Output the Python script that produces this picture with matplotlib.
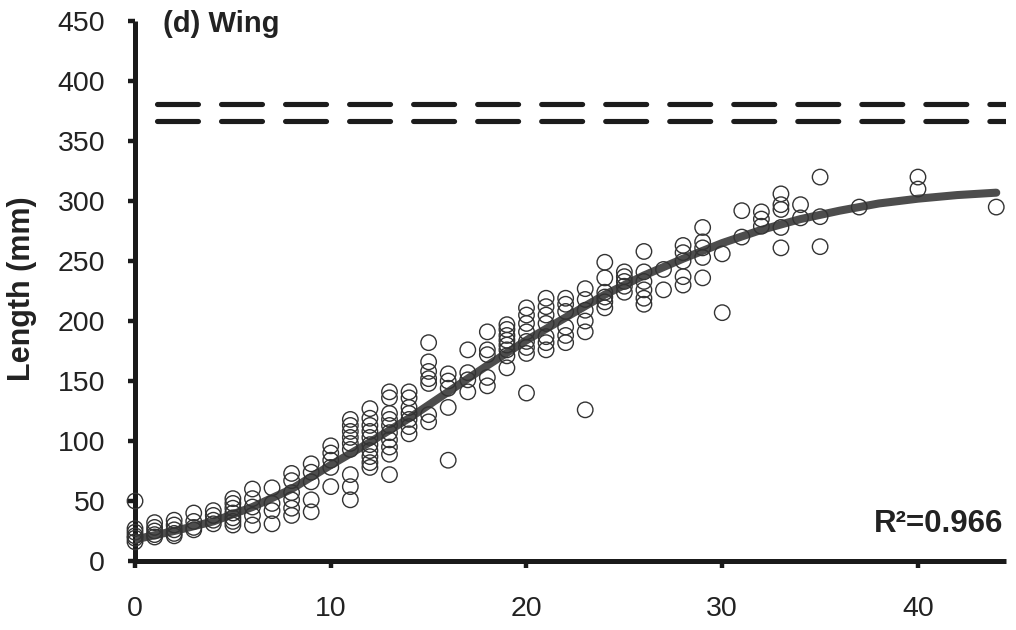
import matplotlib
matplotlib.use("Agg")
import matplotlib.pyplot as plt
import numpy as np

plt.rcParams['font.family'] = ['Liberation Sans', 'DejaVu Sans']
plt.rcParams['lines.scale_dashes'] = False

# Wing length (mm) of individual birds, grouped by age (days)
ages = [0, 1, 2, 3, 4, 5, 6, 7, 8, 9, 10, 11, 12, 13, 14, 15, 16, 17, 18, 19,
        20, 21, 22, 23, 24, 25, 26, 27, 28, 29, 30, 31, 32, 33, 34, 35, 37, 40, 44]
lengths = [
    [50, 27, 24, 21, 19, 16],
    [32, 28, 25, 22, 20],
    [34, 30, 26, 23, 21],
    [40, 33, 28, 26],
    [42, 38, 34, 31],
    [52, 48, 44, 40, 36, 33, 30],
    [60, 52, 45, 38, 30],
    [61, 48, 42, 31],
    [73, 67, 57, 51, 44, 38],
    [81, 74, 66, 51, 41],
    [96, 90, 84, 78, 62],
    [118, 113, 108, 103, 98, 93, 72, 62, 51],
    [127, 119, 113, 108, 103, 97, 92, 87, 82, 78],
    [141, 136, 123, 118, 113, 107, 101, 95, 89, 72],
    [141, 136, 128, 123, 118, 112, 106],
    [182, 166, 158, 152, 148, 122, 116],
    [156, 150, 144, 128, 84],
    [176, 157, 151, 141],
    [191, 176, 172, 153, 146],
    [197, 193, 188, 184, 180, 176, 171, 161],
    [211, 205, 198, 191, 183, 178, 173, 140],
    [219, 212, 205, 198, 187, 182, 176],
    [219, 214, 208, 195, 188, 182],
    [227, 218, 209, 200, 191, 126],
    [249, 236, 224, 220, 216, 211],
    [241, 237, 233, 229, 224],
    [258, 241, 233, 226, 219, 214],
    [243, 226],
    [263, 257, 250, 237, 230],
    [278, 266, 261, 253, 236],
    [256, 207],
    [292, 270],
    [291, 285, 279],
    [306, 297, 293, 278, 261],
    [297, 286],
    [320, 287, 262],
    [295],
    [320, 310],
    [295],
]

# Fitted growth curve
fit_age = [0, 2, 4, 6, 8, 10, 12, 14, 16, 18, 20, 22, 24, 26, 28, 30, 32, 34,
           36, 38, 40, 42, 44]
fit_length = [18, 25, 33, 45, 60, 80, 99, 119, 141, 163, 184, 203, 222, 238,
              252, 265, 276, 285, 292, 298, 302, 305, 307]

# Adult wing length range
adult_lengths = [381, 367]
adult_start = 1.1

r_squared = "0.966"
panel_title = "(d) Wing"
y_label = "Length (mm)"
x_ticks = [0, 10, 20, 30, 40]
y_ticks = list(range(0, 451, 50))

x_pts = np.concatenate([[a] * len(v) for a, v in zip(ages, lengths)])
y_pts = np.concatenate(lengths)

fig = plt.figure(figsize=(10.16, 6.30), dpi=100)
ax = fig.add_axes([0.1329, 0.1095, 0.8573, 0.857])

ax.set_xlim(0, 44.5)
ax.set_ylim(0, 450)

for yv in adult_lengths:
    ax.plot([adult_start, 44.5], [yv, yv], color='#1c1c1c', lw=3.7,
            dashes=(29.5, 16.6), dash_capstyle='round', zorder=2)

ax.plot(fit_age, fit_length, color='#4d4d4d', lw=5.8,
        solid_capstyle='round', solid_joinstyle='round', zorder=3)

ax.scatter(x_pts, y_pts, s=124, facecolors='none', edgecolors='#333333',
           linewidths=1.0, zorder=5, clip_on=False)

for side in ['top', 'right']:
    ax.spines[side].set_visible(False)
for side in ['left', 'bottom']:
    ax.spines[side].set_linewidth(3.6)
    ax.spines[side].set_color('#1a1a1a')
    ax.spines[side].set_capstyle('butt')

ax.set_xticks(x_ticks)
ax.set_yticks(y_ticks)
ax.tick_params(axis='both', direction='out', length=5, width=3.2,
               colors='#1a1a1a', labelsize=20.5, labelcolor='#222222')
ax.tick_params(axis='y', pad=16.5)
ax.tick_params(axis='x', pad=20)

ax.set_ylabel(y_label, fontsize=22, fontweight='bold', color='#222222')
ax.yaxis.set_label_coords(-0.112, 0.505)

ax.text(0.032, 0.995, panel_title, transform=ax.transAxes, fontsize=21,
        fontweight='bold', color='#222222', ha='left', va='center')
ax.text(0.997, 0.068, "R\u00b2=" + r_squared, transform=ax.transAxes,
        fontsize=22.5, fontweight='bold', color='#222222', ha='right',
        va='center')

fig.savefig("out.png", dpi=100)
